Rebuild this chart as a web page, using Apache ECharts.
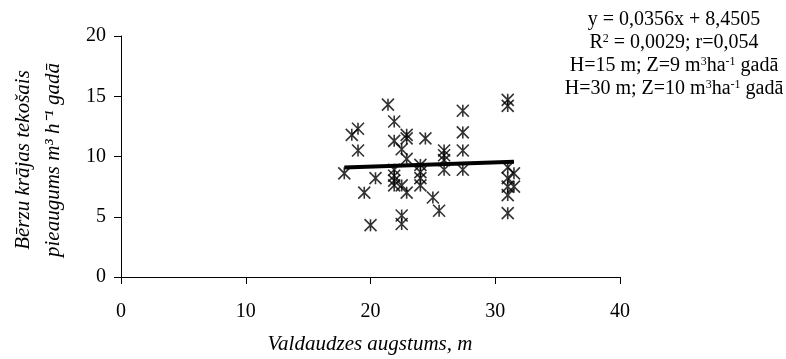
<!DOCTYPE html>
<html>
<head>
<meta charset="utf-8">
<script src="https://cdn.jsdelivr.net/npm/echarts@6/dist/echarts.min.js"></script>
<style>
html,body{margin:0;padding:0;background:#fff;}
#c{width:786px;height:359px;}
</style>
</head>
<body>
<div id="c"></div>
<script>
// Data
var heights = [17.9, 19.0, 18.5, 19.0, 19.5, 20.0, 20.4, 21.4, 21.9, 21.9, 21.9, 21.9, 21.9, 21.9,
  22.5, 22.9, 22.9, 22.9, 22.5, 22.9, 22.5, 22.5, 24.4, 24.0, 24.0, 24.0, 24.0, 25.0, 25.5,
  25.9, 25.9, 25.9, 25.9, 27.4, 27.4, 27.4, 27.4, 31.0, 31.0, 31.0, 31.0, 31.0, 31.0, 31.5, 31.5, 31.0];
var increments = [8.6, 12.3, 11.8, 10.5, 7.0, 4.3, 8.2, 14.3, 12.9, 11.3, 8.9, 8.4, 8.0, 7.6,
  10.6, 11.8, 11.5, 9.8, 7.6, 7.0, 5.1, 4.4, 11.5, 9.3, 8.7, 8.2, 7.6, 6.6, 5.5,
  10.5, 10.1, 9.7, 8.9, 13.8, 12.0, 10.5, 8.9, 14.7, 14.2, 9.1, 8.2, 7.5, 6.8, 8.6, 7.5, 5.3];
var trendSlope = 0.0356;
var trendIntercept = 8.4505;
var xTicks = [0, 10, 20, 30, 40];
var yTicks = [0, 5, 10, 15, 20];
var eqLines = [
  'y = 0,0356x + 8,4505',
  'R{s|2} = 0,0029; r=0,054',
  'H=15 m; Z=9 m{s|3}ha{s|-1} gadā',
  'H=30 m; Z=10 m{s|3}ha{s|-1} gadā'
];
var yTitle1 = 'Bērzu krājas tekošais';
var yTitle2 = 'pieaugums m³ h⁻¹ gadā';
var xTitle = 'Valdaudzes augstums, m';

var pts = heights.map(function (h, i) { return [h, increments[i]]; });
var xmin = Math.min.apply(null, heights), xmax = Math.max.apply(null, heights);
var trend = [[xmin, trendSlope * xmin + trendIntercept], [xmax, trendSlope * xmax + trendIntercept]];

var serif = '"Liberation Serif", "Times New Roman", serif';
var chart = echarts.init(document.getElementById('c'), null, {renderer: 'canvas'});

var eqGraphics = eqLines.map(function (t, i) {
  return {
    type: 'text', x: 674, y: 20 + i * 23,
    style: {
      text: t, x: 0, y: 0, align: 'center', verticalAlign: 'middle',
      fill: '#000', font: '20px ' + serif,
      rich: { s: { fontSize: 12, fontFamily: serif, fill: '#000', verticalAlign: 'top', lineHeight: 12, padding: [0,0,14,0] } }
    }
  };
});

chart.setOption({
  animation: false,
  grid: {left: 121, right: 166, top: 36, bottom: 82, containLabel: false},
  xAxis: {
    type: 'value', min: xTicks[0], max: xTicks[xTicks.length - 1], interval: 10,
    axisLine: {show: true, lineStyle: {color: '#000', width: 1}},
    axisTick: {show: true, length: 7, lineStyle: {color: '#000'}},
    axisLabel: {margin: 25, color: '#000', fontSize: 20, fontFamily: serif},
    splitLine: {show: false}
  },
  yAxis: {
    type: 'value', min: yTicks[0], max: yTicks[yTicks.length - 1], interval: 5,
    axisLine: {show: true, lineStyle: {color: '#000', width: 1}},
    axisTick: {show: true, length: 7, lineStyle: {color: '#000'}},
    axisLabel: {margin: 15, color: '#000', fontSize: 20, fontFamily: serif},
    splitLine: {show: false}
  },
  graphic: eqGraphics.concat([
    {
      type: 'text', x: 38, y: 160, rotation: Math.PI / 2,
      style: {
        text: yTitle1 + '\n' + yTitle2, align: 'center', verticalAlign: 'middle',
        fill: '#000', font: 'italic 21px ' + serif, lineHeight: 30
      }
    },
    {
      type: 'text', x: 370, y: 344,
      style: {
        text: xTitle, align: 'center', verticalAlign: 'middle',
        fill: '#000', font: 'italic 21px ' + serif
      }
    }
  ]),
  series: [
    {
      type: 'scatter', data: pts,
      symbol: 'path://M0,0L10,10M0,10L10,0M5,0L5,10',
      symbolSize: 12,
      itemStyle: {color: 'rgba(0,0,0,0)', borderColor: '#000', borderWidth: 1.6},
      z: 3
    },
    {
      type: 'line', data: trend, symbol: 'none',
      lineStyle: {color: '#000', width: 4}, z: 4
    }
  ]
});
</script>
</body>
</html>
